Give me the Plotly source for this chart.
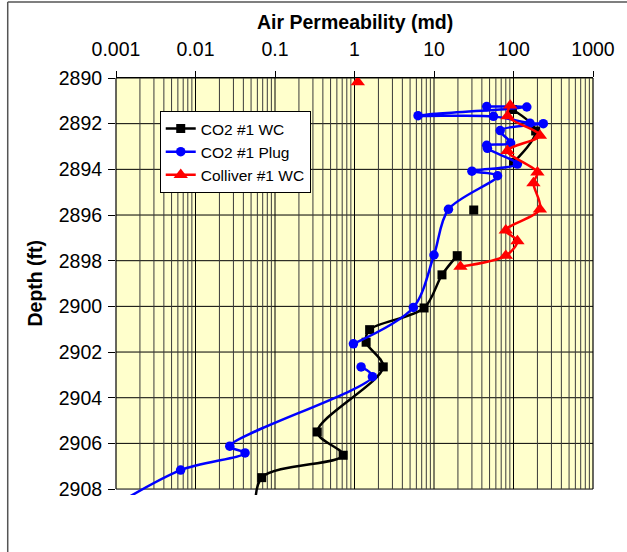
import numpy as np
import plotly.graph_objects as go

# Whole-core and plug air permeability versus depth
co2_wc_depth = [2891.38, 2892.32, 2893.70, None, 2895.78, None, 2897.78, 2898.62,
                2900.07, 2901.02, 2901.57, 2902.65, 2905.50, 2906.52, 2907.50, 2909.5]
co2_wc_perm = [97, 190, 100, None, 31.6, None, 19.6, 12.6,
               7.5, 1.55, 1.4, 2.3, 0.34, 0.72, 0.068, 0.058]

co2_plug_depth = [2891.25, 2891.27, 2891.65, 2891.68, 2891.98, 2892.00, 2892.30, 2892.85,
                  2892.95, 2893.08, 2893.77, 2894.08, 2894.28, 2895.75, 2897.75, 2900.05,
                  2901.64, None, 2902.65, 2903.08, 2906.12, 2906.42, 2907.17, 2909.0]
co2_plug_perm = [46, 147, 6.3, 56, 161, 237, 68, 92,
                 46, 47, 112, 30, 63, 15.2, 10, 5.5,
                 0.97, None, 1.21, 1.68, 0.027, 0.042, 0.0065, 0.0007]

colliver_depth = [2890.18, None, 2891.20, 2891.67, 2892.52, 2893.19, 2894.13, 2894.60,
                  2895.75, 2896.67, 2897.14, 2897.78, 2898.26]
colliver_perm = [1.1, None, 91, 84, 215, 84, 200, 178,
                 215, 80, 112, 80, 21.5]

x_tick_vals = [0.001, 0.01, 0.1, 1, 10, 100, 1000]
x_tick_text = ["0.001", "0.01", "0.1", "1", "10", "100", "1000"]
depth_ticks = list(range(2890, 2909, 2))

FONT = "Liberation Sans, Arial, sans-serif"
D_TOP, D_BOT = 2890, 2908
D_CLIP = 2908.26

fig = go.Figure()

# minor/major vertical grid inside the plot
gx, gy = [], []
for e in range(-3, 3):
    for k in range(2, 10):
        v = k * 10.0 ** e
        gx += [v, v, None]
        gy += [D_TOP, D_BOT, None]
fig.add_trace(go.Scatter(x=gx, y=gy, mode="lines", line=dict(color="#3a3a3a", width=1),
                         showlegend=False, hoverinfo="skip"))
mx, my = [], []
for v in x_tick_vals[1:-1]:
    mx += [v, v, None]
    my += [D_TOP, D_BOT, None]
fig.add_trace(go.Scatter(x=mx, y=my, mode="lines", line=dict(color="black", width=1),
                         showlegend=False, hoverinfo="skip"))

fig.add_trace(go.Scatter(
    x=co2_wc_perm, y=co2_wc_depth, name="CO2 #1 WC", mode="lines+markers",
    line=dict(color="black", width=2.5, shape="spline", smoothing=0.9),
    marker=dict(symbol="square", size=9, color="black")))
fig.add_trace(go.Scatter(
    x=co2_plug_perm, y=co2_plug_depth, name="CO2 #1 Plug", mode="lines+markers",
    line=dict(color="#0000FF", width=2.5, shape="spline", smoothing=0.9),
    marker=dict(symbol="circle", size=9.5, color="#0000FF")))
fig.add_trace(go.Scatter(
    x=colliver_perm, y=colliver_depth, name="Colliver #1 WC", mode="lines+markers",
    line=dict(color="#FF0000", width=2.5, shape="spline", smoothing=0.9),
    marker=dict(symbol="triangle-up", size=12.5, color="#FF0000")))

shapes = [
    # plot-area fill
    dict(type="rect", xref="paper", yref="y", x0=0, x1=1, y0=D_TOP, y1=D_BOT,
         fillcolor="#FFFFCC", line=dict(width=0), layer="below"),
    # left axis and right edge
    dict(type="line", xref="paper", yref="y", x0=0, x1=0, y0=D_TOP, y1=D_BOT,
         line=dict(color="black", width=1.2)),
    dict(type="line", xref="paper", yref="y", x0=1, x1=1, y0=D_TOP, y1=D_BOT,
         line=dict(color="black", width=1.2), layer="below"),
    # chart frame (left and top)
    dict(type="line", xref="paper", yref="paper", x0=-0.227, x1=-0.227, y0=-0.2, y1=1.182,
         line=dict(color="#555555", width=1.5)),
    dict(type="line", xref="paper", yref="paper", x0=-0.227, x1=1.2, y0=1.182, y1=1.182,
         line=dict(color="#555555", width=1.5)),
]
for d in depth_ticks:
    shapes.append(dict(type="line", xref="paper", yref="y", x0=0, x1=1, y0=d, y1=d,
                       line=dict(color="black", width=1), layer="below"))

fig.update_layout(
    width=627, height=552,
    margin=dict(l=116, r=31, t=78, b=57),
    paper_bgcolor="white", plot_bgcolor="white",
    font=dict(family=FONT, size=20, color="black"),
    shapes=shapes,
    xaxis=dict(type="log", range=[-3, 3], side="top",
               tickvals=x_tick_vals, ticktext=x_tick_text,
               ticks="outside", ticklen=6, tickcolor="black",
               showline=True, linecolor="black", linewidth=1,
               showgrid=False, zeroline=False, tickfont=dict(size=19.5),
               ticklabelstandoff=7),
    yaxis=dict(range=[D_CLIP, D_TOP], tickvals=depth_ticks,
               ticks="outside", ticklen=7, tickcolor="black",
               showline=False, showgrid=False, zeroline=False,
               tickfont=dict(size=19.5), ticklabelstandoff=2),
    legend=dict(x=0.0917, y=0.921, xanchor="left", yanchor="top",
                bgcolor="white", bordercolor="black", borderwidth=1,
                font=dict(size=15.5), itemwidth=30),
    annotations=[
        dict(text="<b>Air Permeability (md)</b>", xref="paper", yref="paper",
             x=0.5, y=1.135, xanchor="center", yanchor="middle", showarrow=False,
             font=dict(size=19.5)),
        dict(text="<b>Depth (ft)</b>", xref="paper", yref="paper",
             x=-0.169, y=0.508, xanchor="center", yanchor="middle", showarrow=False,
             textangle=-90, font=dict(size=19.5)),
    ],
)

fig.write_html("out.html")
